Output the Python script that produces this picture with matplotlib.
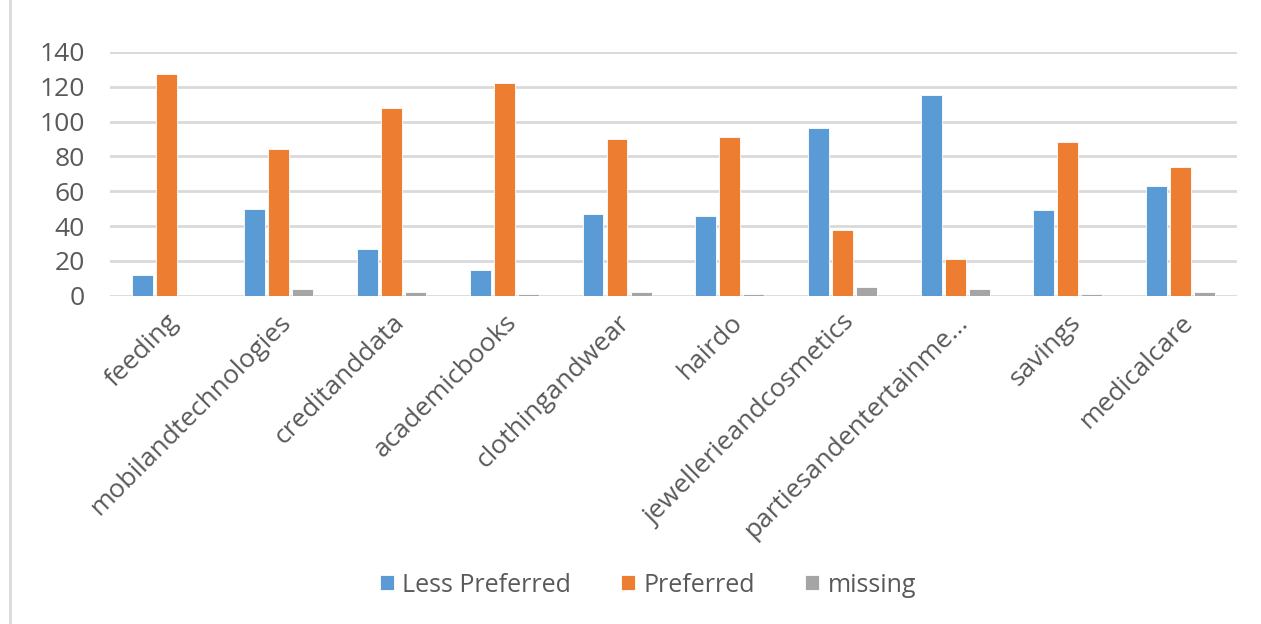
import numpy as np
import matplotlib
matplotlib.use("Agg")
import matplotlib.pyplot as plt
from matplotlib.lines import Line2D

categories = ["feeding", "mobilandtechnologies", "creditanddata", "academicbooks",
              "clothingandwear", "hairdo", "jewellerieandcosmetics",
              "partiesandentertainme...", "savings", "medicalcare"]
less_preferred = [12, 50, 27, 15, 47, 46, 96, 115, 49, 63]
preferred = [127, 84, 108, 122, 90, 91, 38, 21, 88, 74]
missing = [0, 4, 2, 1, 2, 1, 5, 4, 1, 2]

series = [("Less Preferred", less_preferred, "#5B9BD5"),
          ("Preferred", preferred, "#ED7D31"),
          ("missing", missing, "#A5A5A5")]

plt.rcParams["font.family"] = ["Open Sans", "DejaVu Sans"]

fig = plt.figure(figsize=(12.61, 6.24), dpi=100)
ax = fig.add_axes([0.087, 0.526, 0.894, 0.391])

x = np.arange(len(categories))
w = 0.186
step = 0.213
for i, (name, vals, col) in enumerate(series):
    ax.bar(x + (i - 1) * step, vals, width=w, color=col, label=name,
           edgecolor="white", linewidth=0.6, zorder=3)

ax.set_xlim(-0.5, len(categories) - 0.5)
ax.set_ylim(0, 140)
ax.set_yticks(range(0, 141, 20))
ax.grid(axis="y", color="#D9D9D9", linewidth=2, zorder=0)
for s in ax.spines.values():
    s.set_visible(False)
ax.tick_params(axis="both", length=0, labelcolor="#595959", labelsize=19)
ax.tick_params(axis="y", pad=18)
ax.set_xticks(x)
ax.set_xticklabels(categories, rotation=45, ha="right", rotation_mode="anchor")
ax.tick_params(axis="x", pad=10)

leg = fig.legend(loc="center", bbox_to_anchor=(0.514, 0.062), ncol=3, frameon=False,
                 fontsize=18, handlelength=0.55, handleheight=0.55, columnspacing=2.0,
                 handletextpad=0.35)
for t in leg.get_texts():
    t.set_color("#595959")

fig.add_artist(Line2D([0.008, 0.008], [0.0, 1.0], color="#D9D9D9", linewidth=2))

plt.savefig("out.png", dpi=100)
